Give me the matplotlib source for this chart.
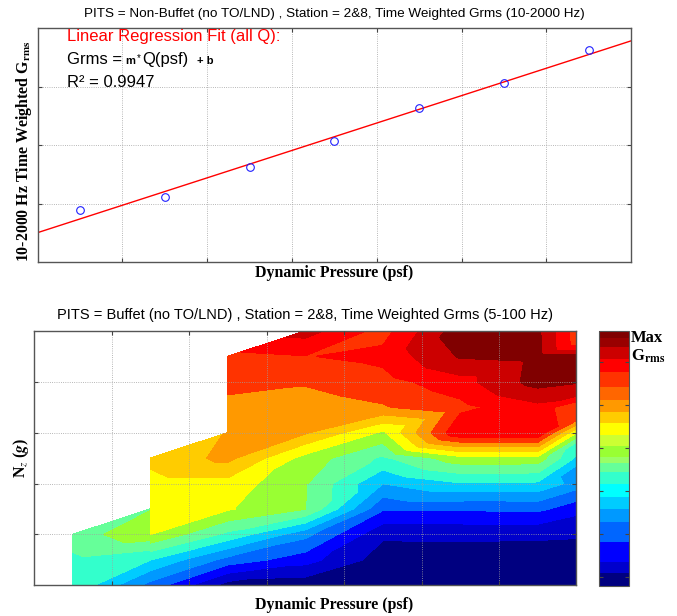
import numpy as np
import matplotlib
matplotlib.use('Agg')
import matplotlib.pyplot as plt
import matplotlib.tri as mtri
from matplotlib.colors import ListedColormap, BoundaryNorm
from matplotlib.cm import ScalarMappable

W, H = 677, 616
plt.rcParams['font.family'] = 'Liberation Sans'
plt.rcParams['mathtext.fontset'] = 'stix'
SERIF = 'Liberation Serif'

# --- top panel: non-buffet Grms vs dynamic pressure ---
Q_PTS = [50, 150, 250, 350, 450, 550, 650]
GRMS_PTS = [0.887, 1.105, 1.62, 2.07, 2.63, 3.06, 3.62]

# --- bottom panel: buffet Grms map (relative level, 0 = min, 16 = max) ---
Q_GRID = [50, 149.9, 150, 250, 350, 450, 550, 650, 750]
NZ_GRID = [0.0, 0.5, 1.0, 1.5, 2.0, 2.5, 3.0, 3.5, 4.0, 4.5, 5.0]
nan = np.nan
GRMS_BY_Q = [
    [6.9, 6.75, 7.6, nan, nan, nan, nan, nan, nan, nan, nan],
    [3.6, 6.0, 8.6, 7.95, nan, nan, nan, nan, nan, nan, nan],
    [3.6, 6.0, 9.0, 9.1, 9.6, 10.3, nan, nan, nan, nan, nan],
    [0.5, 3.6, 6.7, 9.1, 9.6, 11.26, 11.05, 11.6, 12.4, 12.7, nan],
    [0.3, 2.4, 4.3, 8.0, 8.05, 8.6, 11.1, 11.5, 12.1, 12.95, 14.4],
    [0.2, 0.5, 1.15, 3.1, 5.0, 6.8, 8.8, 11.9, 12.6, 13.3, 12.6],
    [0.2, 0.5, 1.2, 3.1, 5.9, 8.6, 13.9, 12.7, 13.6, 15.1, 15.6],
    [0.2, 0.5, 1.15, 3.2, 5.8, 8.6, 13.95, 13.7, 15.4, 15.3, 15.2],
    [0.4, 0.7, 1.05, 1.8, 3.4, 3.0, 4.05, 10.3, 14.8, 15.3, 9.8],
]
PLOT_COLORS = ['#000080', '#0000cc', '#0000ff', '#0066ff', '#0099ff', '#00ccff',
               '#33ffcc', '#66ff99', '#99ff33', '#ffff00', '#ffcc00', '#ff9900',
               '#ff3300', '#ff0000', '#cc0000', '#800000']

# colorbar bands (same 0-16 scale)
CBAR_EDGES = [0, 0.82, 1.51, 2.76, 4.02, 4.83, 5.58, 6.4, 7.15, 7.72, 8.09, 8.78,
              9.48, 10.23, 10.92, 11.67, 12.49, 13.43, 14.24, 15.0, 15.56, 16]
CBAR_COLORS = ['#000080', '#0000cc', '#0000ff', '#0066ff', '#0099ff', '#00ccff',
               '#00ffff', '#33ffcc', '#66ff99', '#99ff66', '#99ff33', '#ccff33',
               '#ffff00', '#ffcc00', '#ff9900', '#ff6600', '#ff3300', '#ff0000',
               '#cc0000', '#990000', '#800000']
CBAR_TICKS = [0.56, 3.26, 5.96, 8.66, 11.36, 14.05]


def fx(x):
    return x / W


def fy(y):
    return 1 - y / H


def style_axes(ax):
    ax.tick_params(direction='in', length=3, top=True, right=True,
                   labelbottom=False, labelleft=False, color='#444444')
    ax.grid(True, linestyle=':', color='#a0a0a0', linewidth=0.6)
    for s in ax.spines.values():
        s.set_color('#555555')
        s.set_linewidth(1.0)


fig = plt.figure(figsize=(W / 100, H / 100), dpi=100)

# ---------------- top panel ----------------
ax1 = fig.add_axes([fx(37.6), fy(262), fx(593.7), 234 / H])
m, b = np.polyfit(Q_PTS, GRMS_PTS, 1)
xl = np.array([0, 700])
ax1.plot(xl, m * xl + b, color='red', lw=1.0)
ax1.plot(Q_PTS, GRMS_PTS, 'o', mfc='none', mec='#2020ff', ms=5.5, mew=0.8)
ax1.set_xlim(0, 700)
ax1.set_ylim(0, 4)
ax1.set_xticks(np.arange(100, 700, 100))
ax1.set_yticks([1, 2, 3])
style_axes(ax1)

fig.text(fx(334), fy(13.5), 'PITS = Non-Buffet (no TO/LND) , Station = 2&8, Time Weighted Grms (10-2000 Hz)',
         ha='center', va='center', fontsize=9.7)
fig.text(fx(67), fy(40.7), 'Linear Regression Fit (all Q):', color='red', fontsize=12, va='baseline')
fig.text(fx(67), fy(64), 'Grms =', fontsize=12, va='baseline')
fig.text(fx(125), fy(64), 'm', fontsize=8, fontweight='bold', va='baseline')
fig.text(fx(137), fy(61), '*', fontsize=7, va='baseline')
fig.text(fx(142), fy(64), 'Q(psf)', fontsize=12, va='baseline')
fig.text(fx(197), fy(64), '+ b', fontsize=8, fontweight='bold', va='baseline')
fig.text(fx(67), fy(87.3), 'R\u00b2 = 0.9947', fontsize=12, va='baseline')

fig.text(fx(334), fy(273), 'Dynamic Pressure (psf)', ha='center', va='center',
         fontsize=11.4, fontweight='bold', family=SERIF)
fig.text(fx(24), fy(151), r'10-2000 Hz Time Weighted G$_{\mathbf{rms}}$', rotation=90,
         ha='center', va='center', fontsize=11.4, fontweight='bold', family=SERIF)

# ---------------- bottom panel ----------------
ax2 = fig.add_axes([fx(34.3), fy(585.3), fx(542.1), 254.3 / H])
z = np.array(GRMS_BY_Q, dtype=float)
qq, nn = np.meshgrid(Q_GRID, NZ_GRID, indexing='ij')
valid = np.isfinite(z)
idx = np.arange(z.size).reshape(z.shape)
tris = []
for i in range(z.shape[0] - 1):
    for j in range(z.shape[1] - 1):
        corners = [(idx[i, j], valid[i, j]), (idx[i + 1, j], valid[i + 1, j]),
                   (idx[i + 1, j + 1], valid[i + 1, j + 1]), (idx[i, j + 1], valid[i, j + 1])]
        ok = [k for k, v in corners if v]
        if len(ok) == 4:
            tris.append([ok[0], ok[1], ok[2]])
            tris.append([ok[0], ok[2], ok[3]])
        elif len(ok) == 3:
            tris.append(ok)
triang = mtri.Triangulation(qq.ravel(), nn.ravel(), tris)
cs = ax2.tricontourf(triang, z.ravel(), levels=np.arange(17), colors=PLOT_COLORS)
cs.set_edgecolor('face')
cs.set_linewidth(0.3)
ax2.set_xlim(0, 700)
ax2.set_ylim(0, 5)
ax2.set_xticks(np.arange(100, 700, 100))
ax2.set_yticks([1, 2, 3, 4])
ax2.set_axisbelow(False)
style_axes(ax2)

fig.text(fx(305), fy(315), 'PITS = Buffet (no TO/LND) , Station = 2&8, Time Weighted Grms (5-100 Hz)',
         ha='center', va='center', fontsize=10.5)
fig.text(fx(334), fy(605), 'Dynamic Pressure (psf)', ha='center', va='center',
         fontsize=11.4, fontweight='bold', family=SERIF)
fig.text(fx(21), fy(458), r'N$_{z}$ ($\mathbfit{g}$)', rotation=90, ha='center', va='center',
         fontsize=11.4, fontweight='bold', family=SERIF)

# colorbar
cax = fig.add_axes([fx(598.5), fy(586), fx(30.5), 255 / H])
sm = ScalarMappable(norm=BoundaryNorm(CBAR_EDGES, len(CBAR_COLORS)),
                    cmap=ListedColormap(CBAR_COLORS))
cb = fig.colorbar(sm, cax=cax, spacing='proportional', ticks=CBAR_TICKS)
cb.minorticks_off()
cb.ax.tick_params(direction='in', length=3, left=True, right=True,
                  labelright=False, labelleft=False, color='#444444')
cb.outline.set_edgecolor('#555555')
fig.text(fx(631), fy(338), 'Max', fontsize=12, fontweight='bold', family=SERIF, va='center')
fig.text(fx(631), fy(356), r'G$_{\mathbf{rms}}$', fontsize=12, fontweight='bold', family=SERIF, va='center')

fig.savefig('out.png', dpi=100)
